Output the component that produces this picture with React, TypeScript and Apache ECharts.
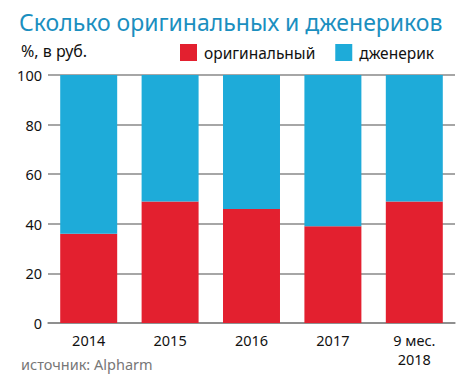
import React, { useEffect, useRef } from "react";
import * as echarts from "echarts";

const categories = ["2014", "2015", "2016", "2017", "9 мес.\n2018"];
const originalValues = [36, 49, 46, 39, 49];
const genericValues = [64, 51, 54, 61, 51];
const seriesNames = ["оригинальный", "дженерик"];

export default function App() {
  const ref = useRef<HTMLDivElement>(null);
  useEffect(() => {
    const chart = echarts.init(ref.current!, null, { renderer: "svg" });
    const font = "'Noto Sans', 'Open Sans', sans-serif";
    chart.setOption({
      animation: false,
      textStyle: { fontFamily: font },
      title: [
        {
          text: "Сколько оригинальных и дженериков",
          left: 14,
          top: 5,
          textStyle: { color: "#1b8fbf", fontSize: 23, fontWeight: "normal", fontFamily: font },
        },
        {
          text: "%, в руб.",
          left: 16,
          top: 38,
          textStyle: { color: "#111", fontSize: 16, fontWeight: "normal", fontFamily: font },
        },
        {
          text: "источник: Alpharm",
          left: 16,
          top: 351,
          textStyle: { color: "#777", fontSize: 14.5, fontWeight: "normal", fontFamily: font },
        },
      ],
      legend: {
        left: 175,
        top: 39,
        itemWidth: 17,
        itemHeight: 17,
        itemGap: 20,
        icon: "rect",
        textStyle: { fontSize: 15.5, color: "#111", fontFamily: font, padding: [0, 0, 0, 2] },
        data: seriesNames,
      },
      grid: { left: 48, right: 16, top: 75, bottom: 57 },
      xAxis: {
        type: "category",
        data: categories,
        axisLine: { show: true, lineStyle: { color: "#888", width: 1.5 } },
        axisTick: { show: false },
        axisLabel: { color: "#111", fontSize: 14.5, lineHeight: 19, margin: 7, fontFamily: font, interval: 0 },
      },
      yAxis: {
        type: "value",
        min: 0,
        max: 100,
        interval: 20,
        axisLine: { show: false },
        axisTick: { show: false },
        splitLine: { show: true, lineStyle: { color: "#888", width: 1.5 } },
        axisLabel: { color: "#111", fontSize: 14.5, margin: 6, fontFamily: font },
      },
      series: [
        {
          name: seriesNames[0],
          type: "bar",
          stack: "total",
          data: originalValues,
          barWidth: "70%",
          itemStyle: { color: "#e3202f" },
        },
        {
          name: seriesNames[1],
          type: "bar",
          stack: "total",
          data: genericValues,
          barWidth: "70%",
          itemStyle: { color: "#1eabd9" },
        },
      ],
    });
    return () => chart.dispose();
  }, []);
  return <div ref={ref} style={{ width: 471, height: 380, position: "absolute", left: 0, top: 0 }} />;
}
